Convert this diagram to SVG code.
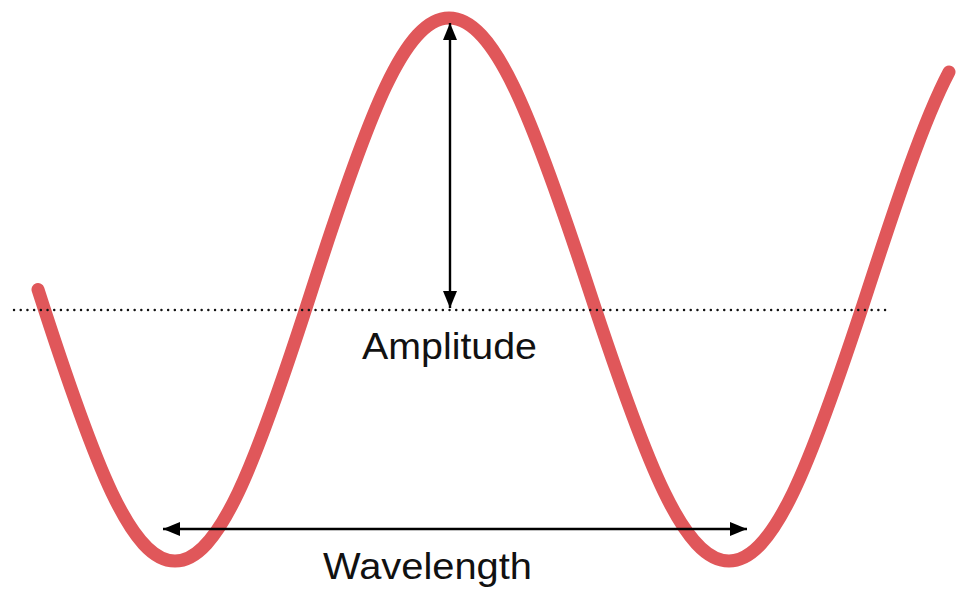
<svg xmlns="http://www.w3.org/2000/svg" width="956" height="590" viewBox="0 0 956 590">
  <style>
    .wave { fill: none; stroke: #e0575a; stroke-width: 13; stroke-linecap: round; stroke-linejoin: round; }
    .axis { stroke: #111; stroke-width: 2.4; stroke-dasharray: 0.1 6.6; stroke-linecap: round; }
    .arrow { stroke: #000; stroke-width: 2.4; fill: none; }
    .label { font-family: "Liberation Sans", Arial, sans-serif; font-size: 36px; fill: #111; text-anchor: middle; }
  </style>
  <defs>
    <marker id="ah" viewBox="0 0 17 14" refX="17" refY="7" markerWidth="17" markerHeight="14" markerUnits="userSpaceOnUse" orient="auto-start-reverse">
      <path d="M0,0 L17,7 L0,14 Z" fill="#000"/>
    </marker>
  </defs>
  <rect width="956" height="590" fill="#fff"/>
  <g id="wave">
    <path class="wave" d="M38 289.5 C95.6 468.7 131.4 561 175 561 C218.6 561 254.4 468.7 312 289.5 C369.6 110.3 405.4 18 449 18 C493.6 18 530.2 110.3 589 289.5 C647.8 468.7 684.4 561 729 561 C773.2 561 809.6 468.7 868 289.5 C895.7 204.6 923.3 120.9 949 72"/>
  </g>
  <g id="midline">
    <line class="axis" x1="14" y1="310" x2="887" y2="310"/>
  </g>
  <g id="connectors">
    <line id="amplitude-arrow" class="arrow" x1="450" y1="23" x2="450" y2="308" marker-start="url(#ah)" marker-end="url(#ah)"/>
    <line id="wavelength-arrow" class="arrow" x1="163" y1="529" x2="747" y2="529" marker-start="url(#ah)" marker-end="url(#ah)"/>
  </g>
  <g id="amplitude-label">
    <text class="label" x="449.5" y="359" textLength="175" lengthAdjust="spacingAndGlyphs">Amplitude</text>
  </g>
  <g id="wavelength-label">
    <text class="label" x="427.5" y="579" textLength="209" lengthAdjust="spacingAndGlyphs">Wavelength</text>
  </g>
</svg>
